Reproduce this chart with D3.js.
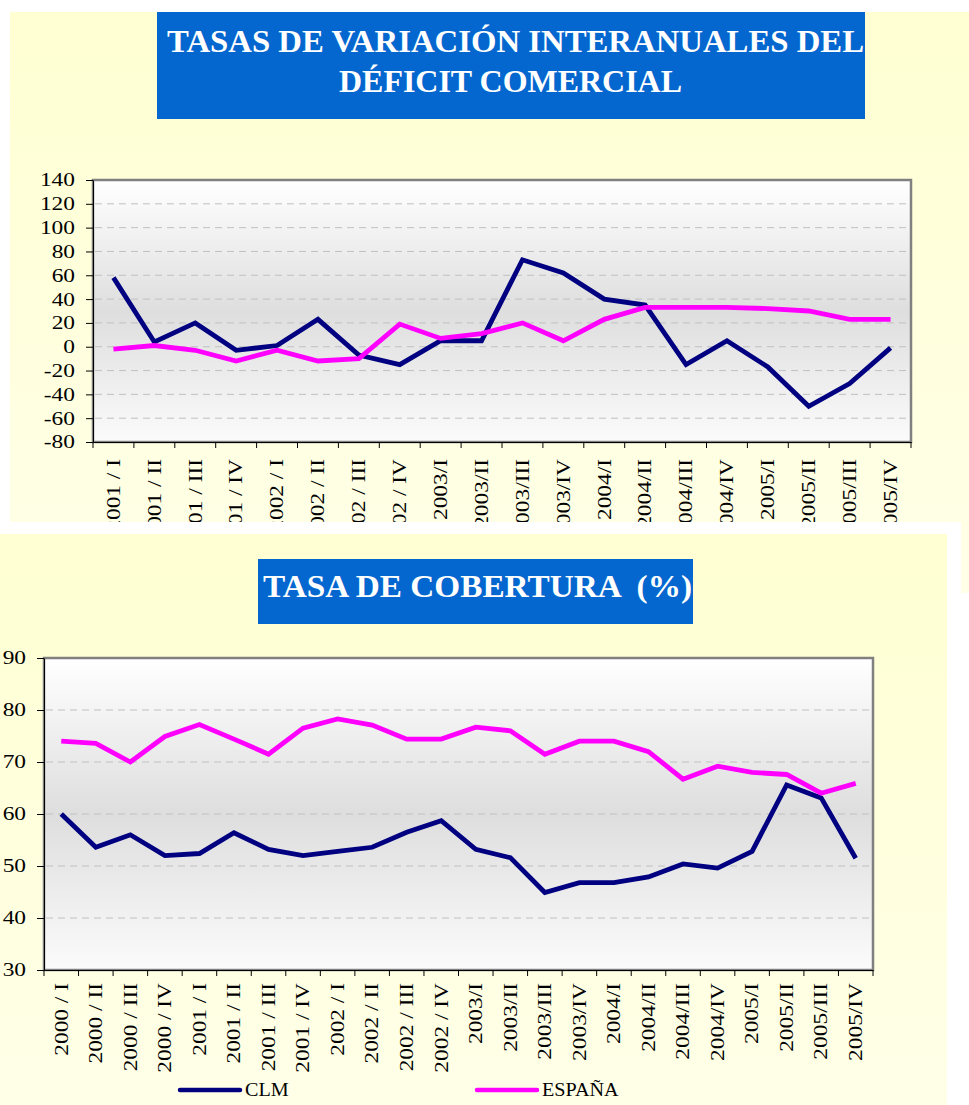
<!DOCTYPE html>
<html>
<head>
<meta charset="utf-8">
<script src="https://cdn.jsdelivr.net/npm/d3@7"></script>
<style>
  body { margin: 0; background: #fff; }
  svg { display: block; }
</style>
</head>
<body>
<svg id="chart"></svg>
<script>
// Top chart: year-on-year change of the trade deficit
const topLabels = ['2001 / I', '2001 / II', '2001 / III', '2001 / IV', '2002 / I', '2002 / II', '2002 / III', '2002 / IV',
  '2003/I', '2003/II', '2003/III', '2003/IV', '2004/I', '2004/II', '2004/III', '2004/IV', '2005/I', '2005/II', '2005/III', '2005/IV']
const topClm = [58, 4, 20, -3, 1, 23, -7, -15, 5, 5, 73, 62, 40, 35, -15, 5, -17, -50, -31, -1]
const topEsp = [-2, 1, -3, -12, -3, -12, -10, 19, 7, 11, 20, 5, 23, 33, 33, 33, 32, 30, 23, 23]
const topTicks = [-80, -60, -40, -20, 0, 20, 40, 60, 80, 100, 120, 140]

// Bottom chart: coverage rate (%)
const bottomLabels = ['2000 / I', '2000 / II', '2000 / III', '2000 / IV', '2001 / I', '2001 / II', '2001 / III', '2001 / IV',
  '2002 / I', '2002 / II', '2002 / III', '2002 / IV', '2003/I', '2003/II', '2003/III', '2003/IV',
  '2004/I', '2004/II', '2004/III', '2004/IV', '2005/I', '2005/II', '2005/III', '2005/IV']
const bottomClm = [60, 53.6, 56, 52, 52.4, 56.4, 53.2, 52, 52.8, 53.6, 56.5, 58.7, 53.2, 51.6, 44.9, 46.8, 46.8, 47.9, 50.4, 49.6, 52.8, 65.6, 63.1, 51.5]
const bottomEsp = [74, 73.6, 70, 74.9, 77.2, 74.4, 71.5, 76.5, 78.3, 77.1, 74.4, 74.4, 76.7, 76, 71.5, 74, 74, 72, 66.7, 69.2, 68, 67.6, 64, 65.9]
const bottomTicks = [30, 40, 50, 60, 70, 80, 90]

const seriesNames = ['CLM', 'ESPAÑA']
const seriesColors = ['#000080', '#ff00ff']

const width = 969
const height = 1105
const serif = '"Liberation Serif", "Times New Roman", serif'
const stretch = 1.3

const svg = d3.select('#chart')
  .attr('width', width)
  .attr('height', height)

const defs = svg.append('defs')

const panelGrad = defs.append('linearGradient')
  .attr('id', 'panelGrad')
  .attr('x1', 0).attr('y1', 0).attr('x2', 0).attr('y2', 1)
panelGrad.append('stop').attr('offset', 0).attr('stop-color', '#ffffd2')
panelGrad.append('stop').attr('offset', 1).attr('stop-color', '#ffffe8')

const plotGrad = defs.append('linearGradient')
  .attr('id', 'plotGrad')
  .attr('x1', 0).attr('y1', 0).attr('x2', 0).attr('y2', 1)
plotGrad.append('stop').attr('offset', 0).attr('stop-color', '#ffffff')
plotGrad.append('stop').attr('offset', 0.5).attr('stop-color', '#dedede')
plotGrad.append('stop').attr('offset', 1).attr('stop-color', '#fbfbfb')

const drawChart = (opts) => {
  const { left, right, top, bottom, labels, ticks, series, labelOffset } = opts

  const x = d3.scaleBand()
    .domain(labels)
    .range([left, right])

  const y = d3.scaleLinear()
    .domain([ticks[0], ticks[ticks.length - 1]])
    .range([bottom, top])

  const g = svg.append('g')

  // Plot area with grey frame
  g.append('rect')
    .attr('x', left)
    .attr('y', top)
    .attr('width', right - left)
    .attr('height', bottom - top)
    .attr('fill', 'url(#plotGrad)')
    .attr('stroke', '#808080')
    .attr('stroke-width', 2.5)

  // Dashed gridlines
  g.append('g')
    .selectAll('line')
    .data(ticks.slice(1, -1))
    .enter().append('line')
    .attr('x1', left + 2)
    .attr('x2', right - 2)
    .attr('y1', d => y(d))
    .attr('y2', d => y(d))
    .attr('stroke', '#c0c0c0')
    .attr('stroke-width', 1)
    .attr('stroke-dasharray', '7,5')

  // Y axis
  const yAxis = g.append('g')
    .attr('transform', `translate(${left},0)`)
    .call(d3.axisLeft(y).tickValues(ticks).tickSize(7).tickSizeOuter(0).tickFormat(d3.format('d')))

  yAxis.select('.domain').attr('stroke', '#000')
  yAxis.selectAll('.tick line').attr('stroke', '#000')
  yAxis.selectAll('.tick text')
    .attr('x', -18 / stretch)
    .attr('dy', '0.33em')
    .attr('transform', `scale(${stretch},1)`)
    .attr('font-family', serif)
    .attr('font-size', 18)
    .attr('fill', '#000')
    .text(d => String(d))

  // X axis: labels on band centres, ticks on band edges
  const xAxis = g.append('g')
    .attr('transform', `translate(0,${bottom})`)
    .call(d3.axisBottom(x).tickSize(0).tickSizeOuter(0))

  xAxis.select('.domain').attr('stroke', '#000')
  xAxis.selectAll('.tick text')
    .attr('x', 0)
    .attr('y', 0)
    .attr('dy', '0.35em')
    .attr('text-anchor', 'end')
    .attr('transform', `translate(0,${labelOffset}) rotate(-90) scale(${stretch},1)`)
    .attr('font-family', serif)
    .attr('font-size', 18)
    .attr('fill', '#000')

  const edges = labels.map(d => x(d)).concat([right])
  g.append('g')
    .selectAll('line')
    .data(edges)
    .enter().append('line')
    .attr('x1', d => d)
    .attr('x2', d => d)
    .attr('y1', bottom)
    .attr('y2', bottom + 6)
    .attr('stroke', '#000')

  // Lines
  const line = d3.line()
    .x((d, i) => x(labels[i]) + x.bandwidth() / 2)
    .y(d => y(d))

  g.append('g')
    .selectAll('path')
    .data(series)
    .enter().append('path')
    .attr('d', d => line(d))
    .attr('fill', 'none')
    .attr('stroke', (d, i) => seriesColors[i])
    .attr('stroke-width', 4.8)
    .attr('stroke-linejoin', 'miter')
}

const titleBox = (x, y, w, h, lines) => {
  svg.append('rect')
    .attr('x', x).attr('y', y)
    .attr('width', w).attr('height', h)
    .attr('fill', '#0467cf')

  svg.append('g')
    .selectAll('text')
    .data(lines)
    .enter().append('text')
    .attr('x', d => d.x)
    .attr('y', d => d.y)
    .attr('textLength', d => d.len)
    .attr('lengthAdjust', 'spacingAndGlyphs')
    .attr('font-family', serif)
    .attr('font-weight', 'bold')
    .attr('font-size', 32)
    .attr('fill', '#fff')
    .style('white-space', 'pre')
    .text(d => d.text)
}

// Top panel
svg.append('rect')
  .attr('x', 10).attr('y', 12)
  .attr('width', 970).attr('height', 581)
  .attr('fill', 'url(#panelGrad)')

titleBox(157, 12, 708, 107, [
  { text: 'TASAS DE VARIACIÓN INTERANUALES DEL', x: 167, y: 52, len: 697 },
  { text: 'DÉFICIT COMERCIAL', x: 339, y: 92, len: 343 }
])

drawChart({
  left: 93, right: 911, top: 180, bottom: 442,
  labels: topLabels, ticks: topTicks,
  series: [topClm, topEsp],
  labelOffset: 17
})

// Bottom panel sits over the top one with a white border
svg.append('rect')
  .attr('x', 0).attr('y', 522)
  .attr('width', 961).attr('height', height - 522)
  .attr('fill', '#fff')

svg.append('rect')
  .attr('x', 0).attr('y', 534)
  .attr('width', 947).attr('height', height - 534)
  .attr('fill', 'url(#panelGrad)')

titleBox(258, 559, 435, 65, [
  { text: 'TASA DE COBERTURA  (%)', x: 263, y: 597, len: 429 }
])

drawChart({
  left: 44, right: 873, top: 658, bottom: 970,
  labels: bottomLabels, ticks: bottomTicks,
  series: [bottomClm, bottomEsp],
  labelOffset: 13
})

// Legend
const legend = svg.append('g')
  .selectAll('g')
  .data(seriesNames)
  .enter().append('g')
  .attr('transform', (d, i) => `translate(${[180, 477][i]},1090)`)

legend.append('line')
  .attr('x1', 0).attr('x2', 60)
  .attr('stroke', (d, i) => seriesColors[i])
  .attr('stroke-width', 4.5)
  .attr('stroke-linecap', 'round')

legend.append('text')
  .attr('x', 65 / 1.12)
  .attr('y', 6)
  .attr('transform', 'scale(1.12,1)')
  .attr('font-family', serif)
  .attr('font-size', 18)
  .attr('fill', '#000')
  .text(d => d)
</script>
</body>
</html>
